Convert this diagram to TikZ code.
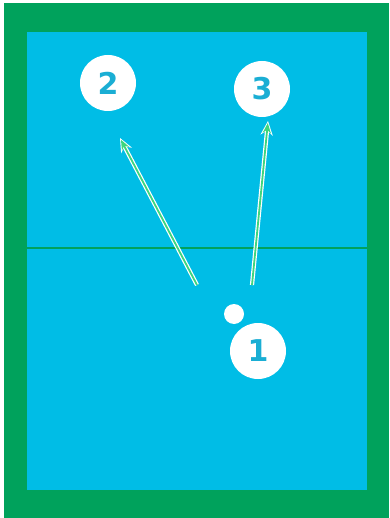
\documentclass[tikz,border=0pt]{standalone}
\usepackage{fontspec}
\setmainfont{DejaVu Sans}
\usetikzlibrary{arrows.meta}
\definecolor{fieldgreen}{HTML}{00A25C}
\definecolor{poolblue}{HTML}{00BDE6}
\definecolor{numblue}{HTML}{1AAED4}
\definecolor{arrowgreen}{HTML}{3ED67E}
\tikzset{
  numcircle/.style={circle, fill=white, minimum size=56pt, inner sep=0pt,
    text=numblue, font=\fontsize{30}{30}\selectfont\bfseries},
  dotcircle/.style={circle, fill=white, minimum size=20pt, inner sep=0pt},
  arrowout/.style={draw=white, line width=4.2pt, -{Stealth[length=14pt,width=12pt]}},
  arrowin/.style={draw=arrowgreen, line width=1.8pt, -{Stealth[length=10pt,width=8pt]}, shorten >=2pt},
}
\begin{document}
\begin{tikzpicture}[x=1pt,y=-1pt]
\useasboundingbox (0,0) rectangle (389,518);
\fill[white] (0,0) rectangle (389,518);
\fill[fieldgreen] (4,3) rectangle (389,518);
\fill[poolblue] (27,32) rectangle (367,490);
\draw[fieldgreen, line width=2pt] (27,247.5) -- (367,247.5);
\coordinate (s2) at (197,285);
\coordinate (e2) at (120,138);
\coordinate (s3) at (252,285);
\coordinate (e3) at (268,121);
\draw[arrowout] (s2) -- (e2);
\draw[arrowin] (s2) -- (e2);
\draw[arrowout] (s3) -- (e3);
\draw[arrowin] (s3) -- (e3);
\node[numcircle] (n2) at (108,83) {2};
\node[numcircle] (n3) at (262,89) {3};
\node[numcircle] (n1) at (258,351) {1};
\node[dotcircle] (ball) at (234,314) {};
\end{tikzpicture}
\end{document}
